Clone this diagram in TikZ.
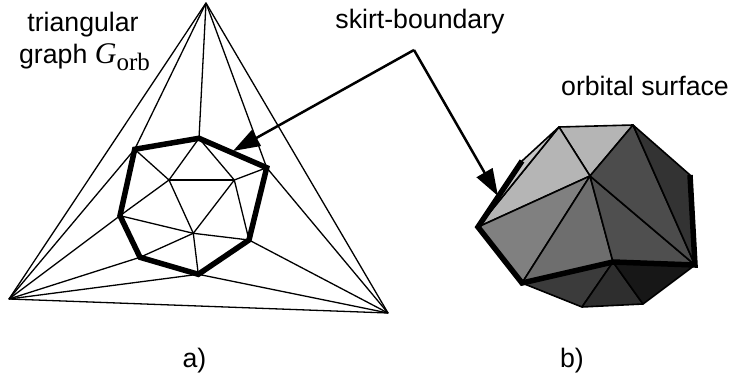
\documentclass[tikz,border=0pt]{standalone}
\usepackage{fontspec}
\setmainfont{Liberation Sans}
\newfontfamily\serifgraph{Liberation Serif}
\usetikzlibrary{arrows.meta}
\tikzset{
  lbl/.style={inner sep=0pt,anchor=base,font=\fontsize{26.7}{31}\selectfont,align=center,text=black},
  thinedge/.style={draw=black,line width=1.3pt,line join=round},
  boundary/.style={draw=black,line width=5.5pt,line join=miter},
  facet/.style={draw=black,line width=1.6pt,line join=round},
  skirt/.style={draw=black,line width=5.5pt,line join=miter,line cap=butt},
  pointer/.style={draw=black,line width=2.5pt,-{Triangle[length=27pt,width=18pt]}},
}
\begin{document}
\begin{tikzpicture}[x=1pt,y=-1pt]
\useasboundingbox (0,0) rectangle (729,377);
% triangular graph
\foreach \n/\p in {T/{206,3},L/{9,299},R/{388,313},
  A/{134.7,149.3},B/{199,138.3},C/{266.7,167.7},D/{249,240},E/{198.3,274.3},F/{140,257.3},G/{120,215.7},
  H/{169,180},I/{234.3,180},J/{193.3,233.3},
  a/{559,127},b/{633,125},c/{590,176},d/{478,227},e/{522,283},f/{582,307},g/{643,304},h/{695,265},i/{690,175},j/{613,262},k/{522,161},
  elbow/{414,50},tipa/{233,151},tipb/{498,196}}
  {\coordinate (\n) at (\p);}
\draw[thinedge] (T) -- (L) -- (R) -- cycle;
\foreach \u/\v in {T/A,T/B,T/C,L/A,L/G,L/F,L/E,R/C,R/D,R/E,
  A/H,B/H,B/I,C/I,H/I,H/G,H/J,I/J,I/D,J/G,J/D,J/F,J/E}
  {\draw[thinedge] (\u) -- (\v);}
\draw[boundary] (A) -- (B) -- (C) -- (D) -- (E) -- (F) -- (G) -- cycle;
% orbital surface
\foreach \col/\pts in {
  {black!29}/{(a) -- (b) -- (c)},
  {black!29}/{(a) -- (c) -- (d)},
  {black!22}/{(a) -- (k) -- (d)},
  {black!50}/{(d) -- (c) -- (e)},
  {black!57}/{(e) -- (c) -- (j)},
  {black!69}/{(c) -- (j) -- (h)},
  {black!70}/{(c) -- (b) -- (h)},
  {black!80}/{(b) -- (i) -- (h)},
  {black!77}/{(e) -- (j) -- (f)},
  {black!82}/{(j) -- (f) -- (g)},
  {black!91}/{(j) -- (h) -- (g)}}
  {\draw[facet,fill=\col] \pts -- cycle;}
\draw[skirt] (k) -- (d) -- (e) -- (j) -- (h) -- (i);
% labels
\node[lbl] (ltri) at (83,32) {triangular};
\node[lbl] (lgraph) at (84.5,64) {graph {\serifgraph\itshape\fontsize{30}{31}\selectfont G}{\serifgraph\fontsize{25}{31}\selectfont\raisebox{-7pt}{orb}}};
\node[lbl] (lskirt) at (420,29) {skirt-boundary};
\node[lbl] (lorb) at (645,96) {orbital surface};
\node[lbl] (la) at (194.5,367) {a)};
\node[lbl] (lb) at (572,367) {b)};
% pointers
\draw[pointer] (elbow) -- (tipa);
\draw[pointer] (elbow) -- (tipb);
\end{tikzpicture}
\end{document}
